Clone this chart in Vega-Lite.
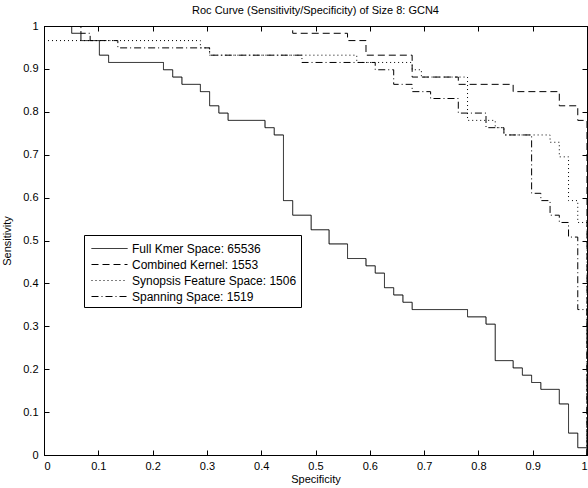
{
  "$schema": "https://vega.github.io/schema/vega-lite/v6.json",
  "width": 543,
  "height": 429,
  "autosize": {"type": "none"},
  "padding": {"left": 44, "top": 26, "right": 1, "bottom": 33},
  "background": "white",
  "config": {
    "font": "Liberation Sans",
    "view": {"stroke": "black", "strokeWidth": 1},
    "axis": {
      "domainColor": "black",
      "tickColor": "black",
      "labelColor": "black",
      "titleColor": "black",
      "labelFont": "Liberation Sans",
      "titleFont": "Liberation Sans",
      "labelFontSize": 11,
      "titleFontSize": 11,
      "titleFontWeight": "normal",
      "grid": false,
      "tickSize": -5,
      "format": "~g"
    }
  },
  "title": {
    "text": "Roc Curve (Sensitivity/Specificity) of Size 8: GCN4",
    "fontSize": 11,
    "fontWeight": "normal",
    "font": "Liberation Sans",
    "color": "black",
    "anchor": "middle",
    "offset": 4
  },
  "data": {
    "values": [
      {"series": "Full Kmer Space: 65536", "spec": 0, "sens": 1},
      {"series": "Full Kmer Space: 65536", "spec": 0.051, "sens": 0.983},
      {"series": "Full Kmer Space: 65536", "spec": 0.068, "sens": 0.966},
      {"series": "Full Kmer Space: 65536", "spec": 0.102, "sens": 0.932},
      {"series": "Full Kmer Space: 65536", "spec": 0.119, "sens": 0.915},
      {"series": "Full Kmer Space: 65536", "spec": 0.22, "sens": 0.898},
      {"series": "Full Kmer Space: 65536", "spec": 0.237, "sens": 0.881},
      {"series": "Full Kmer Space: 65536", "spec": 0.254, "sens": 0.864},
      {"series": "Full Kmer Space: 65536", "spec": 0.288, "sens": 0.847},
      {"series": "Full Kmer Space: 65536", "spec": 0.305, "sens": 0.814},
      {"series": "Full Kmer Space: 65536", "spec": 0.322, "sens": 0.797},
      {"series": "Full Kmer Space: 65536", "spec": 0.339, "sens": 0.78},
      {"series": "Full Kmer Space: 65536", "spec": 0.407, "sens": 0.763},
      {"series": "Full Kmer Space: 65536", "spec": 0.424, "sens": 0.746},
      {"series": "Full Kmer Space: 65536", "spec": 0.441, "sens": 0.593},
      {"series": "Full Kmer Space: 65536", "spec": 0.458, "sens": 0.559},
      {"series": "Full Kmer Space: 65536", "spec": 0.492, "sens": 0.525},
      {"series": "Full Kmer Space: 65536", "spec": 0.525, "sens": 0.492},
      {"series": "Full Kmer Space: 65536", "spec": 0.559, "sens": 0.458},
      {"series": "Full Kmer Space: 65536", "spec": 0.593, "sens": 0.441},
      {"series": "Full Kmer Space: 65536", "spec": 0.61, "sens": 0.424},
      {"series": "Full Kmer Space: 65536", "spec": 0.627, "sens": 0.39},
      {"series": "Full Kmer Space: 65536", "spec": 0.644, "sens": 0.373},
      {"series": "Full Kmer Space: 65536", "spec": 0.661, "sens": 0.356},
      {"series": "Full Kmer Space: 65536", "spec": 0.678, "sens": 0.339},
      {"series": "Full Kmer Space: 65536", "spec": 0.78, "sens": 0.322},
      {"series": "Full Kmer Space: 65536", "spec": 0.814, "sens": 0.305},
      {"series": "Full Kmer Space: 65536", "spec": 0.831, "sens": 0.22},
      {"series": "Full Kmer Space: 65536", "spec": 0.864, "sens": 0.203},
      {"series": "Full Kmer Space: 65536", "spec": 0.881, "sens": 0.186},
      {"series": "Full Kmer Space: 65536", "spec": 0.898, "sens": 0.169},
      {"series": "Full Kmer Space: 65536", "spec": 0.915, "sens": 0.153},
      {"series": "Full Kmer Space: 65536", "spec": 0.949, "sens": 0.119},
      {"series": "Full Kmer Space: 65536", "spec": 0.966, "sens": 0.051},
      {"series": "Full Kmer Space: 65536", "spec": 0.983, "sens": 0.017},
      {"series": "Full Kmer Space: 65536", "spec": 1, "sens": 0},

      {"series": "Combined Kernel: 1553", "spec": 0, "sens": 1},
      {"series": "Combined Kernel: 1553", "spec": 0.458, "sens": 0.983},
      {"series": "Combined Kernel: 1553", "spec": 0.559, "sens": 0.966},
      {"series": "Combined Kernel: 1553", "spec": 0.593, "sens": 0.932},
      {"series": "Combined Kernel: 1553", "spec": 0.678, "sens": 0.881},
      {"series": "Combined Kernel: 1553", "spec": 0.763, "sens": 0.864},
      {"series": "Combined Kernel: 1553", "spec": 0.864, "sens": 0.847},
      {"series": "Combined Kernel: 1553", "spec": 0.949, "sens": 0.814},
      {"series": "Combined Kernel: 1553", "spec": 0.983, "sens": 0.78},
      {"series": "Combined Kernel: 1553", "spec": 1, "sens": 0},

      {"series": "Synopsis Feature Space: 1506", "spec": 0, "sens": 0.966},
      {"series": "Synopsis Feature Space: 1506", "spec": 0.288, "sens": 0.949},
      {"series": "Synopsis Feature Space: 1506", "spec": 0.305, "sens": 0.932},
      {"series": "Synopsis Feature Space: 1506", "spec": 0.576, "sens": 0.915},
      {"series": "Synopsis Feature Space: 1506", "spec": 0.678, "sens": 0.898},
      {"series": "Synopsis Feature Space: 1506", "spec": 0.695, "sens": 0.881},
      {"series": "Synopsis Feature Space: 1506", "spec": 0.78, "sens": 0.78},
      {"series": "Synopsis Feature Space: 1506", "spec": 0.831, "sens": 0.763},
      {"series": "Synopsis Feature Space: 1506", "spec": 0.847, "sens": 0.746},
      {"series": "Synopsis Feature Space: 1506", "spec": 0.932, "sens": 0.729},
      {"series": "Synopsis Feature Space: 1506", "spec": 0.949, "sens": 0.695},
      {"series": "Synopsis Feature Space: 1506", "spec": 0.966, "sens": 0.593},
      {"series": "Synopsis Feature Space: 1506", "spec": 0.983, "sens": 0.542},
      {"series": "Synopsis Feature Space: 1506", "spec": 1, "sens": 0},

      {"series": "Spanning Space: 1519", "spec": 0, "sens": 1},
      {"series": "Spanning Space: 1519", "spec": 0.068, "sens": 0.983},
      {"series": "Spanning Space: 1519", "spec": 0.085, "sens": 0.966},
      {"series": "Spanning Space: 1519", "spec": 0.136, "sens": 0.949},
      {"series": "Spanning Space: 1519", "spec": 0.305, "sens": 0.932},
      {"series": "Spanning Space: 1519", "spec": 0.475, "sens": 0.915},
      {"series": "Spanning Space: 1519", "spec": 0.61, "sens": 0.898},
      {"series": "Spanning Space: 1519", "spec": 0.644, "sens": 0.864},
      {"series": "Spanning Space: 1519", "spec": 0.678, "sens": 0.847},
      {"series": "Spanning Space: 1519", "spec": 0.712, "sens": 0.831},
      {"series": "Spanning Space: 1519", "spec": 0.763, "sens": 0.797},
      {"series": "Spanning Space: 1519", "spec": 0.814, "sens": 0.763},
      {"series": "Spanning Space: 1519", "spec": 0.847, "sens": 0.746},
      {"series": "Spanning Space: 1519", "spec": 0.898, "sens": 0.61},
      {"series": "Spanning Space: 1519", "spec": 0.915, "sens": 0.593},
      {"series": "Spanning Space: 1519", "spec": 0.932, "sens": 0.559},
      {"series": "Spanning Space: 1519", "spec": 0.949, "sens": 0.542},
      {"series": "Spanning Space: 1519", "spec": 0.966, "sens": 0.508},
      {"series": "Spanning Space: 1519", "spec": 0.983, "sens": 0.339},
      {"series": "Spanning Space: 1519", "spec": 1, "sens": 0}
    ]
  },
  "layer": [
    {
      "mark": {"type": "line", "interpolate": "step-after", "color": "black", "strokeWidth": 1, "clip": true},
      "encoding": {
        "x": {
          "field": "spec", "type": "quantitative",
          "scale": {"domain": [0, 1], "nice": false},
          "axis": {"title": "Specificity", "values": [0, 0.1, 0.2, 0.3, 0.4, 0.5, 0.6, 0.7, 0.8, 0.9, 1], "labelPadding": 10, "titlePadding": 2}
        },
        "y": {
          "field": "sens", "type": "quantitative",
          "scale": {"domain": [0, 1], "nice": false},
          "axis": {"title": "Sensitivity", "values": [0, 0.1, 0.2, 0.3, 0.4, 0.5, 0.6, 0.7, 0.8, 0.9, 1], "labelPadding": 11, "titlePadding": 10}
        },
        "strokeDash": {
          "field": "series", "type": "nominal",
          "scale": {
            "domain": ["Full Kmer Space: 65536", "Combined Kernel: 1553", "Synopsis Feature Space: 1506", "Spanning Space: 1519"],
            "range": [[1, 0], [7, 4], [1, 3], [7, 3, 1, 3]]
          },
          "legend": {
            "title": null,
            "orient": "none",
            "legendX": 40,
            "legendY": 209,
            "strokeColor": "black",
            "fillColor": "white",
            "padding": 4,
            "symbolOffset": 12,
            "symbolType": "M-2,0H2",
            "symbolSize": 324,
            "symbolStrokeWidth": 1,
            "symbolStrokeColor": "black",
            "symbolFillColor": "transparent",
            "labelFont": "Liberation Sans",
            "labelFontSize": 12,
            "labelColor": "black",
            "labelOffset": 13,
            "labelLimit": 400,
            "rowPadding": 0
          }
        }
      }
    },
    {
      "mark": {"type": "point", "opacity": 0},
      "encoding": {
        "x": {
          "field": "spec", "type": "quantitative",
          "axis": {"orient": "top", "labels": false, "title": null, "values": [0, 0.1, 0.2, 0.3, 0.4, 0.5, 0.6, 0.7, 0.8, 0.9, 1]}
        },
        "y": {
          "field": "sens", "type": "quantitative",
          "axis": {"orient": "right", "labels": false, "title": null, "values": [0, 0.1, 0.2, 0.3, 0.4, 0.5, 0.6, 0.7, 0.8, 0.9, 1]}
        }
      }
    }
  ],
  "resolve": {"axis": {"x": "independent", "y": "independent"}}
}
